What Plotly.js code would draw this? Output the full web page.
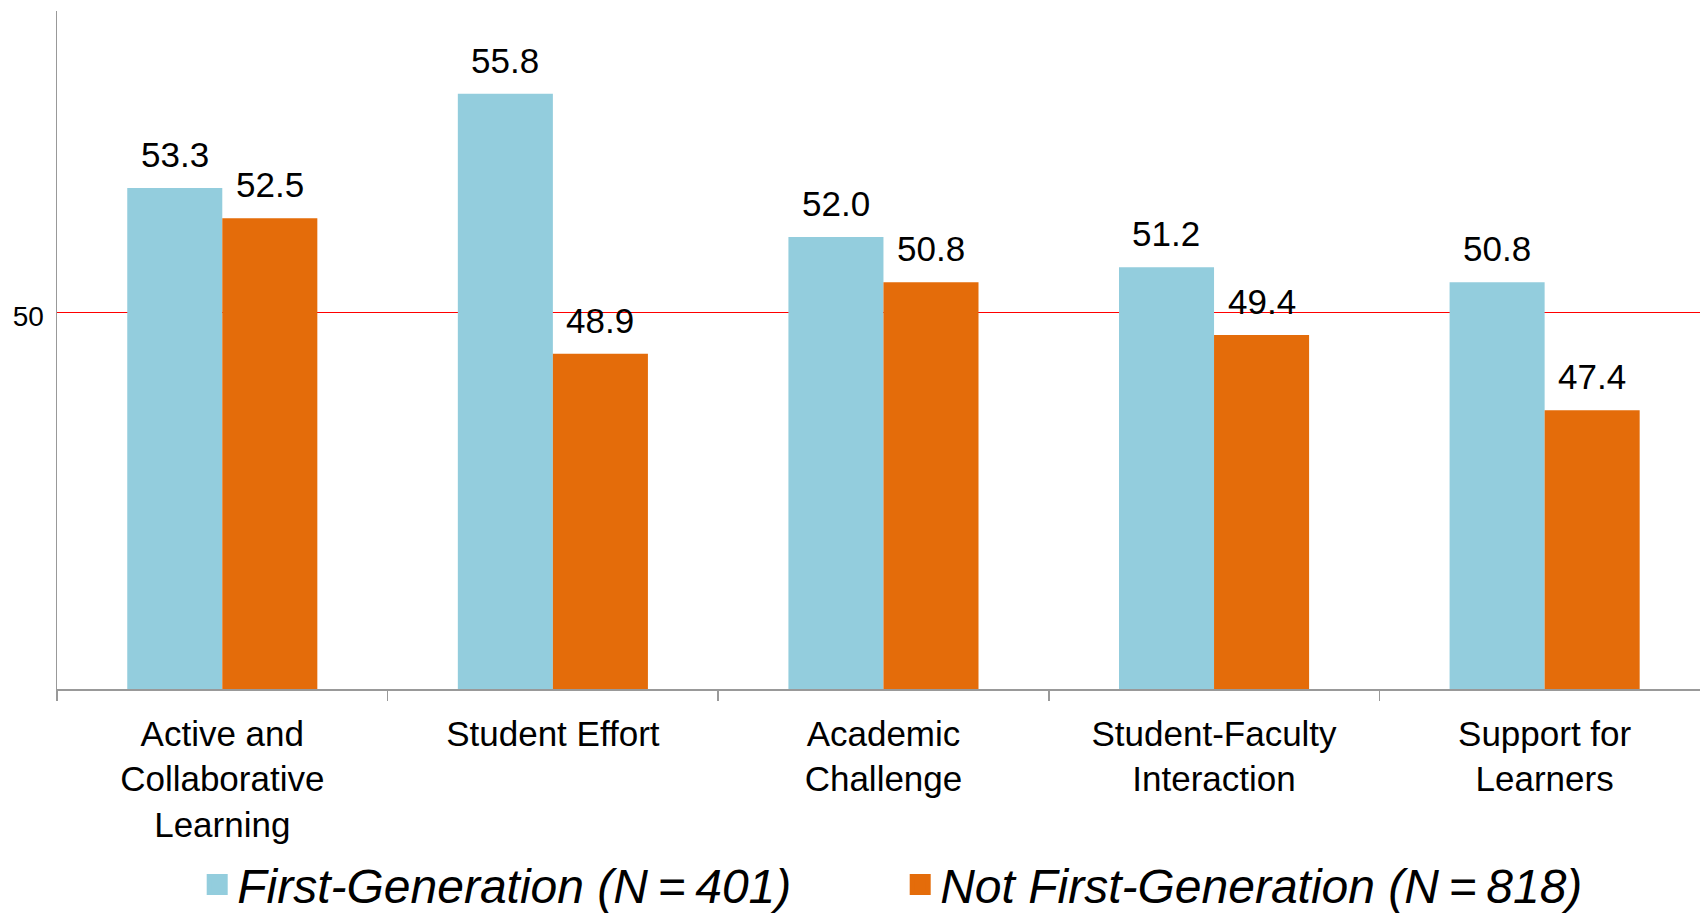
<!DOCTYPE html>
<html>
<head>
<meta charset="utf-8">
<script src="https://cdn.plot.ly/plotly-3.0.1.min.js"></script>
<style>html,body{margin:0;padding:0;background:#fff;}#chart{width:1700px;height:913px;}</style>
</head>
<body>
<div id="chart"></div>
<script>
const categories = ["Active and<br>Collaborative<br>Learning", "Student Effort", "Academic<br>Challenge", "Student-Faculty<br>Interaction", "Support for<br>Learners"];
const firstGen = [53.3, 55.8, 52.0, 51.2, 50.8];
const notFirstGen = [52.5, 48.9, 50.8, 49.4, 47.4];
const seriesNames = ["First-Generation (N\u2009=\u2009401)", "Not First-Generation (N\u2009=\u2009818)"];
const yTickVals = [50];
const yTickText = ["50"];

const colors = ["#93CDDD", "#E46C0A"];
const FONT = "Liberation Sans, Arial, sans-serif";

const traces = [
  {type: "bar", x: categories, y: firstGen, name: seriesNames[0], marker: {color: colors[0]}, showlegend: false, hoverinfo: "y"},
  {type: "bar", x: categories, y: notFirstGen, name: seriesNames[1], marker: {color: colors[1]}, showlegend: false, hoverinfo: "y"},
  {type: "scatter", mode: "markers", x: [categories[0]], y: [null], name: seriesNames[0], marker: {color: colors[0], symbol: "square", size: 24, line: {color: colors[0], width: 5}}, showlegend: true},
  {type: "scatter", mode: "markers", x: [categories[0]], y: [null], name: seriesNames[1], marker: {color: colors[1], symbol: "square", size: 24, line: {color: colors[1], width: 5}}, showlegend: true}
];

const BAR_HALF = 47.6;
const annotations = [];
[firstGen, notFirstGen].forEach((vals, s) => {
  vals.forEach((v, i) => {
    annotations.push({
      x: categories[i], y: v, xref: "x", yref: "y",
      text: v.toFixed(1), showarrow: false,
      xshift: s === 0 ? -BAR_HALF : BAR_HALF,
      yanchor: "bottom", yshift: 12,
      font: {family: FONT, size: 35, color: "#000"}
    });
  });
});

const layout = {
  width: 1700, height: 913,
  margin: {l: 57, r: 0, t: 11, b: 224, pad: 0},
  paper_bgcolor: "#fff", plot_bgcolor: "#fff",
  barmode: "group", bargap: 0.425, bargroupgap: 0,
  font: {family: FONT, color: "#000"},
  xaxis: {
    type: "category", range: [-0.5, 4.47], fixedrange: true,
    showline: true, linecolor: "#999999", linewidth: 1.5,
    ticks: "outside", tickson: "boundaries", ticklen: 10, tickcolor: "#999999", tickwidth: 1.5,
    ticklabelstandoff: 13,
    tickfont: {family: FONT, size: 35, color: "#000"},
    showgrid: false, zeroline: false
  },
  yaxis: {
    range: [40, 58], fixedrange: true,
    showline: true, linecolor: "#999999", linewidth: 1.5,
    tickvals: yTickVals, ticktext: yTickText,
    ticks: "outside", ticklen: 6, tickcolor: "rgba(0,0,0,0)",
    ticklabelshift: 4,
    tickfont: {family: FONT, size: 28, color: "#000"},
    showgrid: true, gridcolor: "#FF0000", gridwidth: 1.5, zeroline: false
  },
  showlegend: true,
  legend: {
    orientation: "h", xref: "container", yref: "container",
    x: 0.116, xanchor: "left", y: 0.031, yanchor: "middle",
    font: {family: FONT, size: 48, style: "italic", color: "#000"},
    entrywidth: 658, entrywidthmode: "pixels",
    bgcolor: "rgba(0,0,0,0)", borderwidth: 0
  },
  annotations: annotations
};

Plotly.newPlot("chart", traces, layout, {displayModeBar: false, staticPlot: true});
</script>
</body>
</html>
